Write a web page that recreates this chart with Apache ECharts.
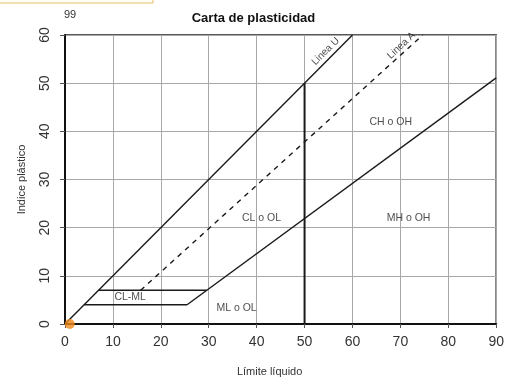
<!DOCTYPE html>
<html>
<head>
<meta charset="utf-8">
<script src="https://cdn.jsdelivr.net/npm/echarts@6/dist/echarts.min.js"></script>
<style>
  html, body { margin: 0; padding: 0; background: #fff; }
  #chart { width: 507px; height: 382px; }
</style>
</head>
<body>
<div id="chart"></div>
<script>
// Axis ticks (liquid limit / plasticity index)
var xTicks = [0, 10, 20, 30, 40, 50, 60, 70, 80, 90];
var yTicks = [0, 10, 20, 30, 40, 50, 60];

// Boundary lines of the chart, as [LL, PI] pairs
var lineU = [[0, 0], [60, 60]];
var lineA = [[25.48, 4], [90, 51.1]];
var lineDashed = [[15.78, 7], [74.67, 60]];
var clmlLow = [[4, 4], [25.48, 4]];
var clmlHigh = [[7, 7], [29.59, 7]];
var ll50 = [[50, 0], [50, 50]];

// Sample point
var sample = [[1, 0]];

// Zone names and where they sit
var zoneNames = ['CL-ML', 'ML o OL', 'CL o OL', 'MH o OH', 'CH o OH'];
var zonePos = [[13.6, 5.5], [35.8, 3.3], [41, 22], [71.7, 22], [68, 42]];

// Line captions
var captionNames = ['Linea U', 'Linea A'];
var captionPos = [[54.4, 56.6], [70.2, 57.8]];
var captionAngle = [45, 43];

var narrow = "'Liberation Sans Narrow', 'Liberation Sans', Arial, sans-serif";
var plain = "'Liberation Sans', Arial, sans-serif";

function seg(data, dashed, w) {
  return {
    type: 'line', data: data, symbol: 'none', silent: true,
    lineStyle: { color: '#1a1a1a', width: w || 1.4, type: dashed ? [5, 5] : 'solid' },
    z: 3
  };
}

var chart = echarts.init(document.getElementById('chart'));
chart.setOption({
  animation: false,
  backgroundColor: '#fff',
  title: {
    text: 'Carta de plasticidad', left: 'center', top: 7,
    textStyle: { fontFamily: plain, fontSize: 13, fontWeight: 'bold', color: '#111' }
  },
  graphic: [
    { type: 'rect', shape: { x: -2, y: -10, width: 155, height: 13 },
      style: { fill: '#fffdf4', stroke: '#e6c26a', lineWidth: 1 } },
    { type: 'text', left: 64, top: 9,
      style: { text: '99', fontFamily: plain, fontSize: 11, fill: '#333' } }
  ],
  grid: { left: 65, right: 10, top: 35, bottom: 58, show: true, borderColor: '#222', borderWidth: 1.5 },
  xAxis: {
    type: 'value', min: 0, max: 90, interval: 10,
    name: 'Límite líquido', nameLocation: 'middle', nameGap: 42,
    nameTextStyle: { fontFamily: narrow, fontSize: 11, color: '#333', padding: [0, 22, 0, 0] },
    axisLine: { lineStyle: { color: '#111', width: 2 } },
    axisTick: { show: true, length: 4, lineStyle: { color: '#555' } },
    axisLabel: { fontFamily: plain, fontSize: 14, color: '#333', margin: 11 },
    splitLine: { lineStyle: { color: '#a8a8a8', width: 1 } }
  },
  yAxis: {
    type: 'value', min: 0, max: 60, interval: 10,
    name: 'Indice plástico', nameLocation: 'middle', nameGap: 38,
    nameTextStyle: { fontFamily: narrow, fontSize: 11, color: '#333' },
    axisLine: { show: true, lineStyle: { color: '#111', width: 2 } },
    axisTick: { show: true, length: 5, lineStyle: { color: '#555' } },
    axisLabel: { fontFamily: plain, fontSize: 14, color: '#333', rotate: 90, margin: 13 },
    splitLine: { lineStyle: { color: '#a8a8a8', width: 1 } }
  },
  series: [
    seg(lineU),
    seg(lineA),
    seg(lineDashed, true),
    seg(clmlLow),
    seg(clmlHigh),
    seg(ll50, false, 2),
    {
      type: 'scatter', data: sample, symbolSize: 10, silent: true,
      itemStyle: { color: '#f0891c' }, z: 5
    },
    {
      type: 'scatter', symbolSize: 0, silent: true, z: 6,
      data: zoneNames.map(function (n, i) { return { value: zonePos[i], name: n }; }),
      label: { show: true, position: 'inside', formatter: '{b}', fontFamily: narrow, fontSize: 10.5, color: '#222' }
    },
    {
      type: 'scatter', symbolSize: 0, silent: true, z: 6,
      data: captionNames.map(function (n, i) {
        return { value: captionPos[i], name: n, label: { rotate: captionAngle[i] } };
      }),
      label: { show: true, position: 'inside', formatter: '{b}', fontFamily: narrow, fontSize: 10, color: '#222' }
    }
  ]
});
</script>
</body>
</html>
